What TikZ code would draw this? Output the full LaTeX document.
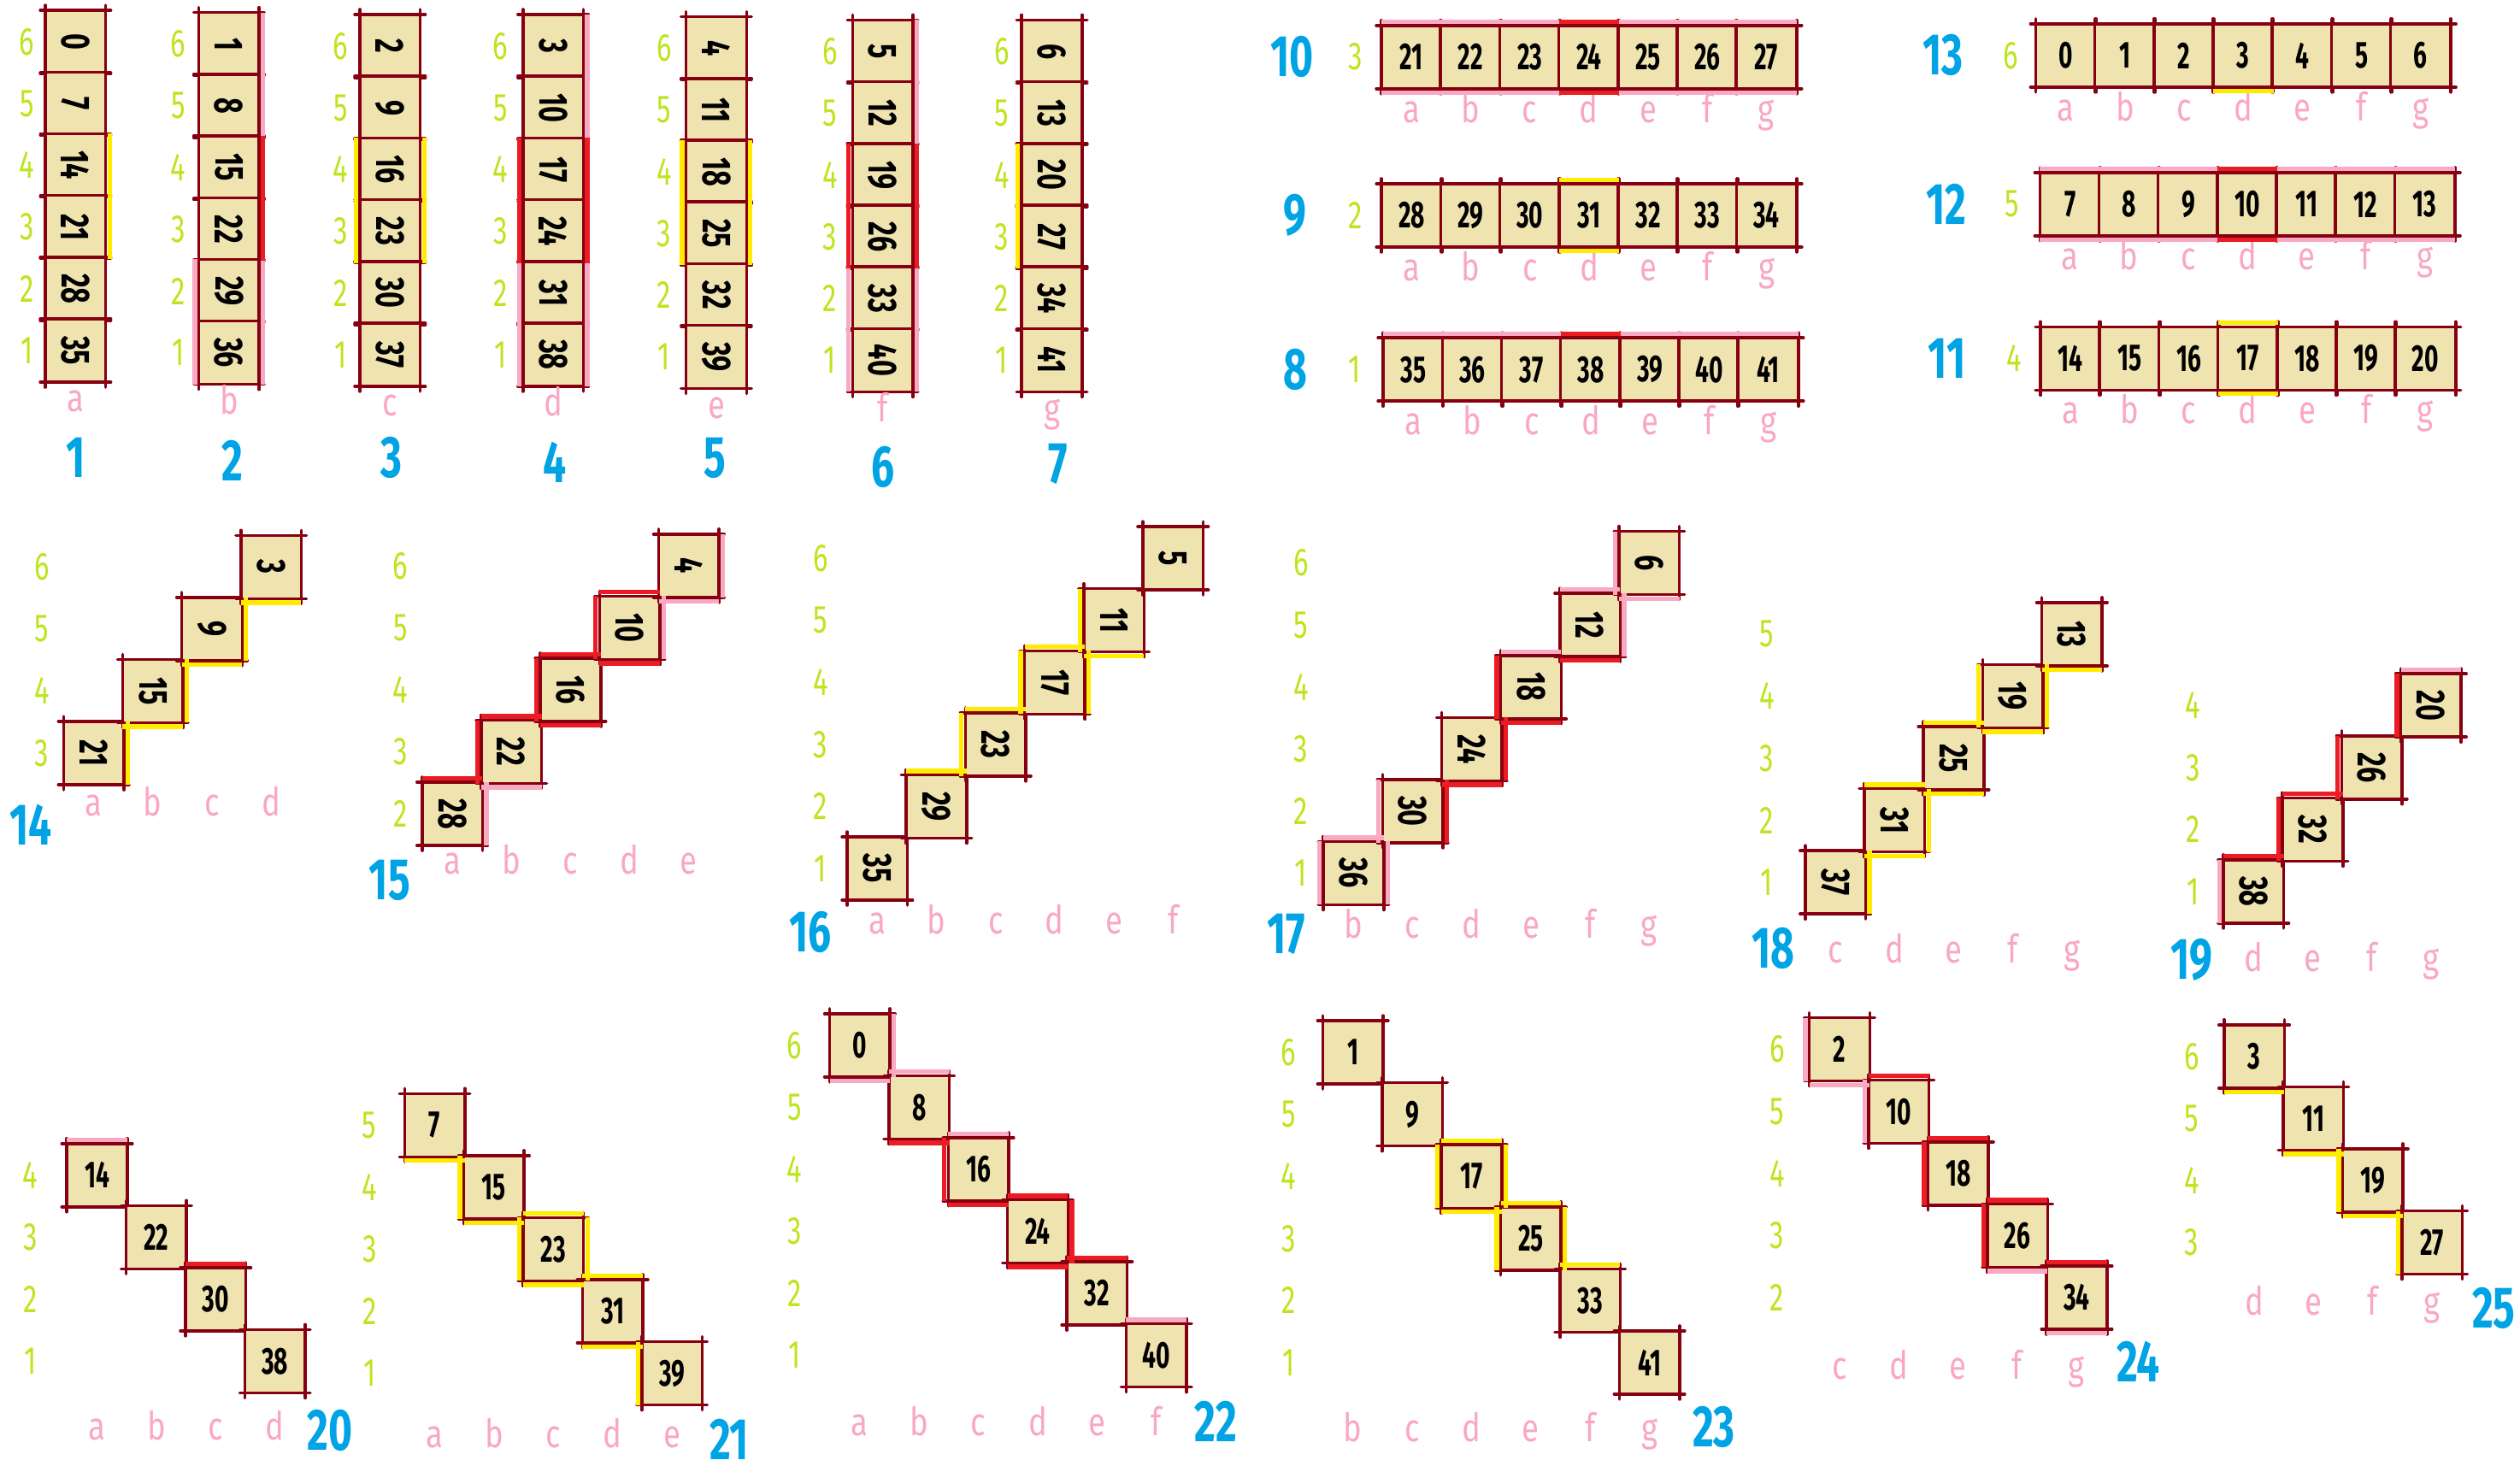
\documentclass[tikz,border=0pt]{standalone}
\usepackage{fontspec}
\setmainfont{Fira Sans}
\usepackage{graphicx}

\definecolor{cellfill}{RGB}{239,227,176}
\definecolor{cellline}{RGB}{134,0,18}
\definecolor{rankgreen}{RGB}{190,228,30}
\definecolor{filepink}{RGB}{249,168,196}
\definecolor{boardblue}{RGB}{0,163,228}
\definecolor{hlyellow}{RGB}{255,236,0}
\definecolor{hlred}{RGB}{236,28,36}
\definecolor{hlpink}{RGB}{249,170,195}

\newcommand{\narrow}[2][0.7]{\scalebox{#1}[1]{#2}}
\newcommand{\filename}[1]{\ifcase#1\relax\or a\or b\or c\or d\or e\or f\or g\fi}
\newcommand{\ov}{0.6mm}
\newcommand{\hlo}{1.3pt}
% one square: name, x, y, value, rotation of its text
\newcommand{\sq}[5]{%
  \node[cell] (#1) at (#2,#3) {\ifnum#5=0 {\fontsize{12.5}{12.5}\selectfont\narrow[.64]{#4}}\else\rotatebox{-90}{\fontsize{13.5}{13.5}\selectfont\narrow[.68]{#4}}\fi};
  \draw[cellrule] ([xshift=-\ov]#1.north west) -- ([xshift=\ov]#1.north east)
    ([xshift=-\ov]#1.south west) -- ([xshift=\ov]#1.south east)
    ([yshift=\ov]#1.north west) -- ([yshift=-\ov]#1.south west)
    ([yshift=\ov]#1.north east) -- ([yshift=-\ov]#1.south east);}
% coloured strips along one side of a square
\newcommand{\hln}[2]{\draw[hl,color=#2] ([yshift=\hlo]#1.north west) -- ([yshift=\hlo]#1.north east);}
\newcommand{\hls}[2]{\draw[hl,color=#2] ([yshift=-\hlo]#1.south west) -- ([yshift=-\hlo]#1.south east);}
\newcommand{\hle}[2]{\draw[hl,color=#2] ([xshift=\hlo]#1.north east) -- ([xshift=\hlo]#1.south east);}
\newcommand{\hlw}[2]{\draw[hl,color=#2] ([xshift=-\hlo]#1.north west) -- ([xshift=-\hlo]#1.south west);}

\begin{document}
\begin{tikzpicture}
		[x=0.188mm,y=-0.188mm,line cap=round,
		%Styles
		cell/.style={fill=cellfill,inner sep=0pt,minimum width=6.92mm,minimum height=7.26mm,font=\bfseries},
		cellrule/.style={cellline,line width=1pt},
		hl/.style={line width=1.5pt,line cap=butt},
		rank/.style={text=rankgreen,inner sep=0pt,font=\fontsize{13}{13}\selectfont},
		file/.style={text=filepink,inner sep=0pt,anchor=mid,font=\fontsize{13}{13}\selectfont},
		board/.style={text=boardblue,inner sep=0pt,font=\bfseries\fontsize{19.5}{19.5}\selectfont}
		]
		\useasboundingbox (0,0) rectangle (1568,915.4);
		
		%Columns 1-7
		\foreach \bd/\lx/\ty/\rx/\nx/\ny in {1/28.6/6.9/16.7/47/284.8, 2/124.1/8.3/111/144.4/286.7, 3/224.3/9.5/212/243.4/284.8, 4/325.8/9.5/311.5/345.3/287.8, 5/427.3/10.9/413.3/445/284.8, 6/530.8/12.9/516.4/549.6/290.7, 7/636.1/12.9/623.4/658.2/288.7}{
			\pgfmathsetmacro{\cx}{\lx+18.4}
			\foreach \rk in {6,...,1}{
				\pgfmathtruncatemacro{\val}{(6-\rk)*7+\bd-1}
				\pgfmathsetmacro{\cy}{\ty+(6-\rk)*38.4+19.2}
				\sq{d\bd-\val}{\cx}{\cy}{\val}{-90}
				\node[rank] (rk\bd-\rk) at (\cx-\lx+\rx-18.4,\cy) {\narrow[.72]{\rk}};
			}
			\node[file] (fl\bd) at (\cx,\ty+244.4) {\narrow[.8]{\filename{\bd}}};
			\node[board] (bd\bd) at (\nx,\ny) {\narrow{\bd}};
		}
		
		%Rows 8-13
		\foreach \bd/\rk/\lx/\ty/\nx/\rx in {10/3/859.9/16.2/804/843.6, 9/2/860/114.7/806/843.6, 8/1/861/210.6/806/843, 13/6/1267/15.2/1208.9/1251, 12/5/1269.6/107.8/1210.9/1252, 11/4/1270/203.7/1211.4/1253}{
			\pgfmathsetmacro{\cy}{\ty+19.3}
			\foreach \fl in {1,...,7}{
				\pgfmathtruncatemacro{\val}{(6-\rk)*7+\fl-1}
				\pgfmathsetmacro{\cx}{\lx+(\fl-1)*36.8+18.4}
				\sq{d\bd-\val}{\cx}{\cy}{\val}{0}
				\node[file] (fl\bd-\fl) at (\cx,\ty+55) {\narrow[.8]{\filename{\fl}}};
			}
			\node[rank] (rk\bd) at (\rx,\cy) {\narrow[.72]{\rk}};
			\node[board] (bd\bd) at (\nx,\cy) {\narrow{\bd}};
		}
		
		%Rising diagonals 14-19
		\foreach \bd/\fo/\ro/\cnt/\lx/\by/\rx/\ly/\nx/\ny in {14/1/3/4/39.9/487.9/26.1/503/19/513.3, 15/1/2/5/263/525.7/249.2/539/242.4/547.9, 16/1/1/6/527.5/559.7/510.6/576.2/504.2/579.8, 17/2/1/6/823.8/562.6/809.5/578.9/800.5/581.5, 18/3/1/5/1123.6/568.3/1099.4/594.3/1103.2/590.3, 19/4/1/4/1383.8/574/1364.4/599.8/1363.8/597}{
			\foreach \idx in {1,...,\cnt}{
				\pgfmathtruncatemacro{\fl}{\fo+\idx-1}
				\pgfmathtruncatemacro{\rk}{\ro+\idx-1}
				\pgfmathtruncatemacro{\val}{(6-\rk)*7+\fl-1}
				\pgfmathsetmacro{\cx}{\lx+(\idx-1)*36.8+18.4}
				\pgfmathsetmacro{\cy}{\by-(\idx-1)*38.6-19.3}
				\sq{d\bd-\val}{\cx}{\cy}{\val}{-90}
				\node[rank] (rk\bd-\rk) at (\rx,\cy) {\narrow[.72]{\rk}};
				\node[file] (fl\bd-\fl) at (\cx,\ly) {\narrow[.8]{\filename{\fl}}};
			}
			\node[board] (bd\bd) at (\nx,\ny) {\narrow{\bd}};
		}
		
		%Falling diagonals 20-25
		\foreach \bd/\fo/\ro/\cnt/\lx/\ty/\rx/\ly/\nx/\ny in {20/1/4/4/42/711.9/18.8/891/205.2/890, 21/1/5/5/252.1/680.8/229.9/896/453.8/895.5, 22/1/6/6/516.6/631.1/494.4/888.1/756.4/884.2, 23/2/6/6/823.4/635.5/801.9/892/1066.4/888.1, 24/3/6/5/1126.2/633.7/1105.8/853/1330.6/847.2, 25/4/6/4/1384.2/638/1363.8/813.2/1551.7/814.1}{
			\foreach \idx in {1,...,\cnt}{
				\pgfmathtruncatemacro{\fl}{\fo+\idx-1}
				\pgfmathtruncatemacro{\rk}{\ro-\idx+1}
				\pgfmathtruncatemacro{\val}{(6-\rk)*7+\fl-1}
				\pgfmathsetmacro{\cx}{\lx+(\idx-1)*36.9+18.4}
				\pgfmathsetmacro{\cy}{\ty+(\idx-1)*38.6+19.3}
				\sq{d\bd-\val}{\cx}{\cy}{\val}{0}
				\node[rank] (rk\bd-\rk) at (\rx,\cy) {\narrow[.72]{\rk}};
				\node[file] (fl\bd-\fl) at (\cx,\ly) {\narrow[.8]{\filename{\fl}}};
			}
			\node[board] (bd\bd) at (\nx,\ny) {\narrow{\bd}};
		}
		
		%Coloured strips
		\foreach \val in {21,...,27}{\hln{d10-\val}{hlpink}\hls{d10-\val}{hlpink}}
		\foreach \val in {7,...,13}{\hln{d12-\val}{hlpink}\hls{d12-\val}{hlpink}}
		\foreach \val in {35,...,41}{\hln{d8-\val}{hlpink}}
		\foreach \nd/\sd/\hc in {d1-14/e/hlyellow, d1-21/e/hlyellow,
			d2-1/e/hlpink, d2-8/e/hlpink, d2-29/e/hlpink, d2-36/e/hlpink, d2-29/w/hlpink, d2-36/w/hlpink, d2-15/e/hlred, d2-22/e/hlred,
			d3-16/e/hlyellow, d3-23/e/hlyellow, d3-16/w/hlyellow, d3-23/w/hlyellow,
			d4-3/e/hlpink, d4-10/e/hlpink, d4-31/e/hlpink, d4-38/e/hlpink, d4-31/w/hlpink, d4-38/w/hlpink, d4-17/e/hlred, d4-24/e/hlred, d4-17/w/hlred, d4-24/w/hlred,
			d5-18/e/hlyellow, d5-25/e/hlyellow, d5-18/w/hlyellow, d5-25/w/hlyellow,
			d6-5/e/hlpink, d6-12/e/hlpink, d6-33/e/hlpink, d6-40/e/hlpink, d6-33/w/hlpink, d6-40/w/hlpink, d6-19/e/hlred, d6-26/e/hlred, d6-19/w/hlred, d6-26/w/hlred,
			d7-20/w/hlyellow, d7-27/w/hlyellow,
			d10-24/n/hlred, d10-24/s/hlred, d12-10/n/hlred, d12-10/s/hlred, d8-38/n/hlred,
			d9-31/n/hlyellow, d9-31/s/hlyellow, d11-17/n/hlyellow, d11-17/s/hlyellow, d13-3/s/hlyellow,
			d14-21/e/hlyellow, d14-15/s/hlyellow, d14-15/e/hlyellow, d14-9/s/hlyellow, d14-9/e/hlyellow, d14-3/s/hlyellow,
			d15-28/e/hlpink, d15-22/s/hlpink, d15-4/e/hlpink, d15-4/s/hlpink, d15-10/e/hlpink,
			d15-28/n/hlred, d15-22/w/hlred, d15-22/n/hlred, d15-16/w/hlred, d15-16/n/hlred, d15-10/w/hlred, d15-10/n/hlred, d15-16/s/hlred, d15-10/s/hlred,
			d16-29/n/hlyellow, d16-23/w/hlyellow, d16-23/n/hlyellow, d16-17/w/hlyellow, d16-17/n/hlyellow, d16-11/w/hlyellow, d16-11/s/hlyellow, d16-17/e/hlyellow,
			d17-36/n/hlpink, d17-36/w/hlpink, d17-36/e/hlpink, d17-30/w/hlpink, d17-18/n/hlpink, d17-12/n/hlpink, d17-12/e/hlpink, d17-6/w/hlpink, d17-6/s/hlpink,
			d17-30/e/hlred, d17-24/s/hlred, d17-24/e/hlred, d17-18/s/hlred, d17-12/s/hlred, d17-18/w/hlred,
			d18-37/e/hlyellow, d18-31/s/hlyellow, d18-31/e/hlyellow, d18-25/s/hlyellow, d18-19/s/hlyellow, d18-19/e/hlyellow, d18-13/s/hlyellow, d18-31/n/hlyellow, d18-25/n/hlyellow, d18-19/w/hlyellow,
			d19-20/n/hlpink, d19-38/w/hlpink, d19-38/n/hlred, d19-32/w/hlred, d19-32/n/hlred, d19-26/w/hlred, d19-20/w/hlred,
			d20-14/n/hlpink, d20-30/n/hlred,
			d21-7/s/hlyellow, d21-15/w/hlyellow, d21-15/s/hlyellow, d21-23/w/hlyellow, d21-23/s/hlyellow, d21-31/s/hlyellow, d21-39/w/hlyellow, d21-23/n/hlyellow, d21-23/e/hlyellow, d21-31/n/hlyellow,
			d22-0/e/hlpink, d22-0/s/hlpink, d22-8/n/hlpink, d22-16/n/hlpink, d22-40/n/hlpink,
			d22-8/s/hlred, d22-16/s/hlred, d22-24/n/hlred, d22-24/s/hlred, d22-32/n/hlred, d22-24/e/hlred, d22-16/w/hlred,
			d23-17/n/hlyellow, d23-17/e/hlyellow, d23-25/n/hlyellow, d23-25/e/hlyellow, d23-33/n/hlyellow, d23-17/s/hlyellow, d23-25/w/hlyellow, d23-17/w/hlyellow,
			d24-2/s/hlpink, d24-10/w/hlpink, d24-26/s/hlpink, d24-34/s/hlpink, d24-2/w/hlpink,
			d24-10/n/hlred, d24-18/n/hlred, d24-26/n/hlred, d24-34/n/hlred, d24-18/w/hlred, d24-26/w/hlred,
			d25-3/s/hlyellow, d25-11/s/hlyellow, d25-19/s/hlyellow, d25-19/w/hlyellow, d25-27/w/hlyellow}{\csname hl\sd\endcsname{\nd}{\hc}}
	\end{tikzpicture}
\end{document}
